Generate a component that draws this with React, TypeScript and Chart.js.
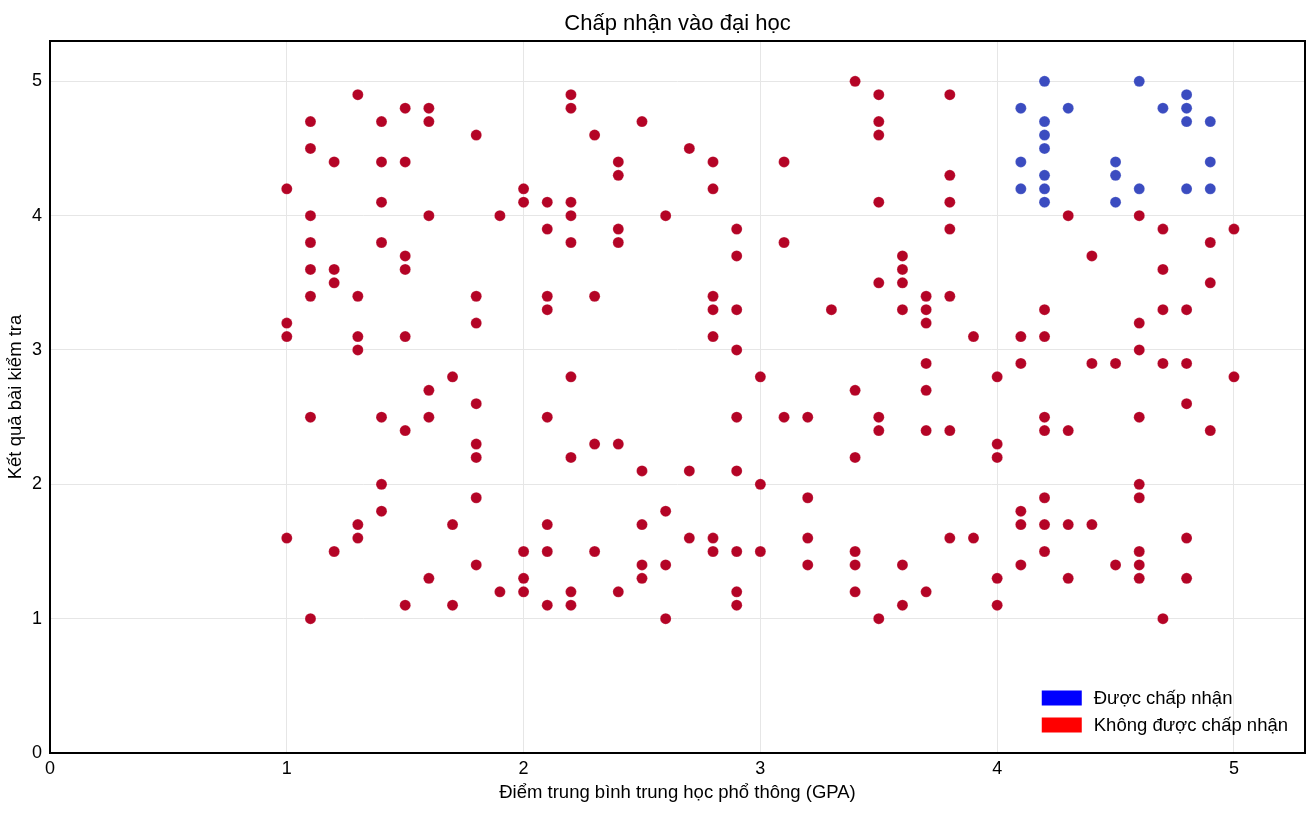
import React, { useEffect, useRef } from "react";
import { Chart, registerables } from "chart.js";

Chart.register(...registerables);

const chartTitle = "Chấp nhận vào đại học";
const xAxisTitle = "Điểm trung bình trung học phổ thông (GPA)";
const yAxisTitle = "Kết quả bài kiểm tra";
const acceptedLabel = "Được chấp nhận";
const rejectedLabel = "Không được chấp nhận";
const tickValues = [0, 1, 2, 3, 4, 5];

// Accepted applicants: GPA and test score
const acceptedGpa = [
  4.1, 4.1, 4.1,
  4.2, 4.2, 4.2, 4.2, 4.2, 4.2, 4.2,
  4.3,
  4.5, 4.5, 4.5,
  4.6, 4.6,
  4.7,
  4.8, 4.8, 4.8, 4.8,
  4.9, 4.9, 4.9,
];
const acceptedScore = [
  4.8, 4.4, 4.2,
  5.0, 4.7, 4.6, 4.5, 4.3, 4.2, 4.1,
  4.8,
  4.4, 4.3, 4.1,
  5.0, 4.2,
  4.8,
  4.9, 4.8, 4.7, 4.2,
  4.7, 4.4, 4.2,
];

// Rejected applicants: GPA and test score
const rejectedGpa = [
  1.0, 1.0, 1.0, 1.0,
  1.1, 1.1, 1.1, 1.1, 1.1, 1.1, 1.1, 1.1,
  1.2, 1.2, 1.2, 1.2,
  1.3, 1.3, 1.3, 1.3, 1.3, 1.3,
  1.4, 1.4, 1.4, 1.4, 1.4, 1.4, 1.4,
  1.5, 1.5, 1.5, 1.5, 1.5, 1.5, 1.5,
  1.6, 1.6, 1.6, 1.6, 1.6, 1.6,
  1.7, 1.7, 1.7,
  1.8, 1.8, 1.8, 1.8, 1.8, 1.8, 1.8, 1.8,
  1.9, 1.9,
  2.0, 2.0, 2.0, 2.0, 2.0,
  2.1, 2.1, 2.1, 2.1, 2.1, 2.1, 2.1, 2.1,
  2.2, 2.2, 2.2, 2.2, 2.2, 2.2, 2.2, 2.2, 2.2,
  2.3, 2.3, 2.3, 2.3,
  2.4, 2.4, 2.4, 2.4, 2.4, 2.4,
  2.5, 2.5, 2.5, 2.5, 2.5,
  2.6, 2.6, 2.6, 2.6,
  2.7, 2.7, 2.7,
  2.8, 2.8, 2.8, 2.8, 2.8, 2.8, 2.8,
  2.9, 2.9, 2.9, 2.9, 2.9, 2.9, 2.9, 2.9, 2.9,
  3.0, 3.0, 3.0,
  3.1, 3.1, 3.1,
  3.2, 3.2, 3.2, 3.2,
  3.3,
  3.4, 3.4, 3.4, 3.4, 3.4, 3.4,
  3.5, 3.5, 3.5, 3.5, 3.5, 3.5, 3.5, 3.5,
  3.6, 3.6, 3.6, 3.6, 3.6, 3.6,
  3.7, 3.7, 3.7, 3.7, 3.7, 3.7, 3.7,
  3.8, 3.8, 3.8, 3.8, 3.8, 3.8, 3.8,
  3.9, 3.9,
  4.0, 4.0, 4.0, 4.0, 4.0,
  4.1, 4.1, 4.1, 4.1, 4.1,
  4.2, 4.2, 4.2, 4.2, 4.2, 4.2, 4.2,
  4.3, 4.3, 4.3, 4.3,
  4.4, 4.4, 4.4,
  4.5, 4.5,
  4.6, 4.6, 4.6, 4.6, 4.6, 4.6, 4.6, 4.6, 4.6,
  4.7, 4.7, 4.7, 4.7, 4.7,
  4.8, 4.8, 4.8, 4.8, 4.8,
  4.9, 4.9, 4.9,
  5.0, 5.0,
];
const rejectedScore = [
  4.2, 3.2, 3.1, 1.6,
  4.7, 4.5, 4.0, 3.8, 3.6, 3.4, 2.5, 1.0,
  4.4, 3.6, 3.5, 1.5,
  4.9, 3.4, 3.1, 3.0, 1.7, 1.6,
  4.7, 4.4, 4.1, 3.8, 2.5, 2.0, 1.8,
  4.8, 4.4, 3.7, 3.6, 3.1, 2.4, 1.1,
  4.8, 4.7, 4.0, 2.7, 2.5, 1.3,
  2.8, 1.7, 1.1,
  4.6, 3.4, 3.2, 2.6, 2.3, 2.2, 1.9, 1.4,
  4.0, 1.2,
  4.2, 4.1, 1.5, 1.3, 1.2,
  4.1, 3.9, 3.4, 3.3, 2.5, 1.7, 1.5, 1.1,
  4.9, 4.8, 4.1, 4.0, 3.8, 2.8, 2.2, 1.2, 1.1,
  4.6, 3.4, 2.3, 1.5,
  4.4, 4.3, 3.9, 3.8, 2.3, 1.2,
  4.7, 2.1, 1.7, 1.4, 1.3,
  4.0, 1.8, 1.4, 1.0,
  4.5, 2.1, 1.6,
  4.4, 4.2, 3.4, 3.3, 3.1, 1.6, 1.5,
  3.9, 3.7, 3.3, 3.0, 2.5, 2.1, 1.5, 1.2, 1.1,
  2.8, 2.0, 1.5,
  4.4, 3.8, 2.5,
  2.5, 1.9, 1.6, 1.4,
  3.3,
  5.0, 2.7, 2.2, 1.5, 1.4, 1.2,
  4.9, 4.7, 4.6, 4.1, 3.5, 2.5, 2.4, 1.0,
  3.7, 3.6, 3.5, 3.3, 1.4, 1.1,
  3.4, 3.3, 3.2, 2.9, 2.7, 2.4, 1.2,
  4.9, 4.3, 4.1, 3.9, 3.4, 2.4, 1.6,
  3.1, 1.6,
  2.8, 2.3, 2.2, 1.3, 1.1,
  3.1, 2.9, 1.8, 1.7, 1.4,
  3.3, 3.1, 2.5, 2.4, 1.9, 1.7, 1.5,
  4.0, 2.4, 1.7, 1.3,
  3.7, 2.9, 1.7,
  2.9, 1.4,
  4.0, 3.2, 3.0, 2.5, 2.0, 1.9, 1.5, 1.4, 1.3,
  3.9, 3.6, 3.3, 2.9, 1.0,
  3.3, 2.9, 2.6, 1.6, 1.3,
  3.8, 3.5, 2.4,
  3.9, 2.8,
];

const FONT = "'Liberation Sans', Arial, sans-serif";
const LABEL_SIZE = 18.5;
const acceptedColor = "#3b4cc0";
const rejectedColor = "#b40426";
const acceptedLegendColor = "#0000ff";
const rejectedLegendColor = "#ff0000";

// Black frame around the plotting area
const framePlugin = {
  id: "frame",
  afterDatasetsDraw(chart: any) {
    const { ctx, chartArea } = chart;
    ctx.save();
    ctx.strokeStyle = "#000";
    ctx.lineWidth = 2;
    ctx.strokeRect(chartArea.left, chartArea.top, chartArea.right - chartArea.left, chartArea.bottom - chartArea.top);
    ctx.restore();
  },
};

// Legend in the lower-right corner of the plotting area
const cornerLegendPlugin = {
  id: "cornerLegend",
  afterDraw(chart: any) {
    const { ctx, chartArea } = chart;
    const items = [
      { label: acceptedLabel, color: acceptedLegendColor },
      { label: rejectedLabel, color: rejectedLegendColor },
    ];
    ctx.save();
    ctx.font = `${LABEL_SIZE}px ${FONT}`;
    const textW = Math.max(...items.map((i) => ctx.measureText(i.label).width));
    const boxW = 40;
    const boxH = 15;
    const gap = 12;
    const rowH = 27;
    const right = chartArea.right - 17;
    const left = right - textW - gap - boxW;
    const lastCenter = chartArea.bottom - 28;
    items.forEach((item, i) => {
      const cy = lastCenter - (items.length - 1 - i) * rowH;
      ctx.fillStyle = item.color;
      ctx.fillRect(left, cy - boxH / 2, boxW, boxH);
      ctx.fillStyle = "#000";
      ctx.textBaseline = "middle";
      ctx.textAlign = "left";
      ctx.fillText(item.label, left + boxW + gap, cy + 1);
    });
    ctx.restore();
  },
};

function toPoints(xs: number[], ys: number[]) {
  return xs.map((x, i) => ({ x, y: ys[i] }));
}

export default function App() {
  const canvasRef = useRef<HTMLCanvasElement | null>(null);

  useEffect(() => {
    const canvas = canvasRef.current;
    if (!canvas) return;
    const chart = new Chart(canvas, {
      type: "scatter",
      data: {
        datasets: [
          {
            label: acceptedLabel,
            data: toPoints(acceptedGpa, acceptedScore),
            backgroundColor: acceptedColor,
            borderColor: "rgba(255,255,255,0.35)",
            borderWidth: 0.6,
            pointRadius: 5.5,
          },
          {
            label: rejectedLabel,
            data: toPoints(rejectedGpa, rejectedScore),
            backgroundColor: rejectedColor,
            borderColor: "rgba(255,255,255,0.35)",
            borderWidth: 0.6,
            pointRadius: 5.5,
          },
        ],
      },
      options: {
        responsive: false,
        animation: false,
        devicePixelRatio: 1,
        layout: { padding: { left: 0, right: 7, top: 0, bottom: 0 } },
        plugins: {
          legend: { display: false },
          tooltip: { enabled: false },
          title: {
            display: true,
            fullSize: false,
            text: chartTitle,
            color: "#000",
            font: { family: FONT, size: 22, weight: "normal", lineHeight: 1.2 },
            padding: { top: 11, bottom: 3.6 },
          },
        },
        scales: {
          x: {
            type: "linear",
            min: 0,
            max: 5.3,
            afterFit(scale: any) {
              scale.height = 63;
            },
            border: { display: false },
            grid: { color: "#e6e6e6", lineWidth: 1, drawTicks: false },
            afterBuildTicks(scale: any) {
              scale.ticks = tickValues.map((v) => ({ value: v }));
            },
            ticks: {
              color: "#000",
              padding: 5,
              font: { family: FONT, size: 18 },
              maxRotation: 0,
            },
            title: {
              display: true,
              text: xAxisTitle,
              color: "#000",
              font: { family: FONT, size: LABEL_SIZE, lineHeight: 1.2 },
              padding: { top: 0, bottom: 12 },
            },
          },
          y: {
            type: "linear",
            min: 0,
            max: 5.3,
            afterFit(scale: any) {
              scale.width = 50;
            },
            border: { display: false },
            grid: { color: "#e6e6e6", lineWidth: 1, drawTicks: false },
            afterBuildTicks(scale: any) {
              scale.ticks = tickValues.map((v) => ({ value: v }));
            },
            ticks: {
              color: "#000",
              padding: 8,
              font: { family: FONT, size: 18 },
            },
            title: {
              display: true,
              text: yAxisTitle,
              color: "#000",
              font: { family: FONT, size: LABEL_SIZE, lineHeight: 1.2 },
              padding: { top: 5, bottom: 0 },
            },
          },
        },
      },
      plugins: [framePlugin, cornerLegendPlugin],
    } as any);
    return () => chart.destroy();
  }, []);

  return (
    <div style={{ position: "absolute", left: 0, top: 0, width: 1312, height: 816, background: "#fff" }}>
      <canvas ref={canvasRef} width={1312} height={816} style={{ display: "block" }} />
    </div>
  );
}
